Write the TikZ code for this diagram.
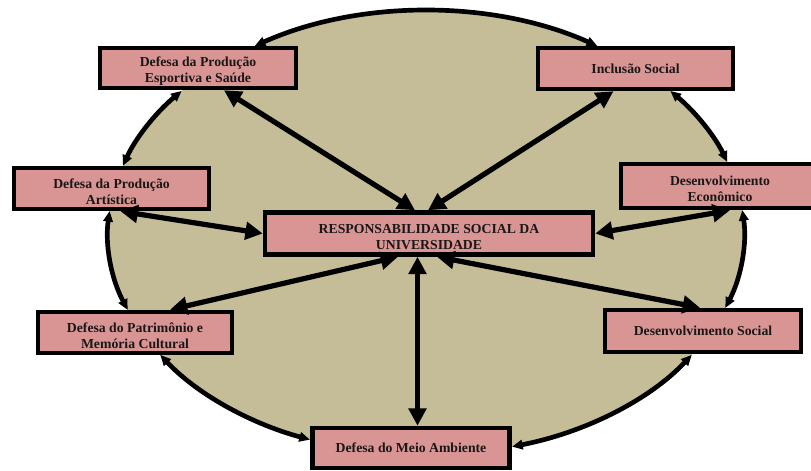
\documentclass[tikz,border=0pt]{standalone}
\usepackage{fontspec}
\setmainfont{Liberation Serif}
\usetikzlibrary{arrows.meta,calc}
\definecolor{oval}{HTML}{C4BD97}
\definecolor{boxfill}{HTML}{D99594}
\definecolor{ink}{HTML}{1A1717}
% taller first line, so that two-line labels sit a little low in their box
\newcommand{\lowline}{\rule{0pt}{12pt}}
\begin{document}
\begin{tikzpicture}[x=0.75pt,y=0.75pt,
  topic/.style={draw=black,line width=3.4pt,fill=boxfill,inner sep=0pt,
    align=center,text=ink,font=\bfseries\fontsize{10.3}{12}\selectfont},
  spoke/.style={line width=3.9pt,{Triangle[length=13pt,width=13pt]}-{Triangle[length=13pt,width=13pt]}},
  rim/.style={line width=3.5pt,{Triangle[length=8pt,width=7pt]}-{Triangle[length=8pt,width=7pt]}}]
\useasboundingbox (0,0) rectangle (811,471);

% the oval background
\coordinate (C) at (426,238);
\fill[oval] (C) ellipse[x radius=318,y radius=222];

% rim connectors along the oval
\draw[rim] ($(C)+(140.2:318 and 222)$) arc[start angle=140.2,end angle=162.4,x radius=318,y radius=222];
\draw[rim] ($(C)+(122.6:318 and 222)$) arc[start angle=122.6,end angle=57.4,x radius=318,y radius=222];
\draw[rim] ($(C)+(39.8:318 and 222)$) arc[start angle=39.8,end angle=18.65,x radius=318,y radius=222];
\draw[rim] ($(C)+(5.95:318 and 222)$) arc[start angle=5.95,end angle=-19.75,x radius=318,y radius=222];
\draw[rim] ($(C)+(-33.3:318 and 222)$) arc[start angle=-33.3,end angle=-74.3,x radius=318,y radius=222];
\draw[rim] ($(C)+(-111.4:318 and 222)$) arc[start angle=-111.4,end angle=-146.7,x radius=318,y radius=222];
\draw[rim] ($(C)+(-159.7:318 and 222)$) arc[start angle=-159.7,end angle=-185.7,x radius=318,y radius=222];

% topic boxes
\node[topic,minimum width=147pt,minimum height=30pt] (sport) at (198,403) {\lowline Defesa da Produção\\Esportiva e Saúde};
\node[topic,minimum width=146.25pt,minimum height=30.75pt] (incl) at (635.5,402.5) {Inclusão Social};
\node[topic,minimum width=146.25pt,minimum height=30.75pt] (art) at (111.5,282.5) {\lowline Defesa da Produção\\Artística};
\node[topic,minimum width=148.5pt,minimum height=33pt] (econ) at (720,285) {\lowline Desenvolvimento\\Econômico};
\node[topic,minimum width=246pt,minimum height=31.5pt] (resp) at (429,237.5) {\lowline RESPONSABILIDADE SOCIAL DA\\UNIVERSIDADE};
\node[topic,minimum width=145.5pt,minimum height=30.75pt] (patr) at (135,138.5) {\lowline Defesa do Patrimônio e\\Memória Cultural};
\node[topic,minimum width=147pt,minimum height=31.5pt] (soc) at (703,140) {Desenvolvimento Social};
\node[topic,minimum width=147.75pt,minimum height=30pt] (meio) at (411,23) {Defesa do Meio Ambiente};

% spokes from the centre box
\draw[spoke] ($(resp.north)+(-14,0)$) -- ($(sport.south)+(26,0)$);
\draw[spoke] ($(resp.north)+(-1,0)$) -- ($(incl.south)+(-22,0)$);
\draw[spoke] (resp.west) -- ($(art.south)+(9,0)$);
\draw[spoke] (resp.east) -- ($(econ.south)+(10,0)$);
\draw[spoke] ($(resp.south)+(-31,0)$) -- ($(patr.north)+(35,0)$);
\draw[spoke] ($(resp.south)+(8,0)$) -- ($(soc.north)+(-3,0)$);
\draw[spoke] ($(resp.south)+(-11.5,0)$) -- ($(meio.north)+(6.5,0)$);
\end{tikzpicture}
\end{document}
